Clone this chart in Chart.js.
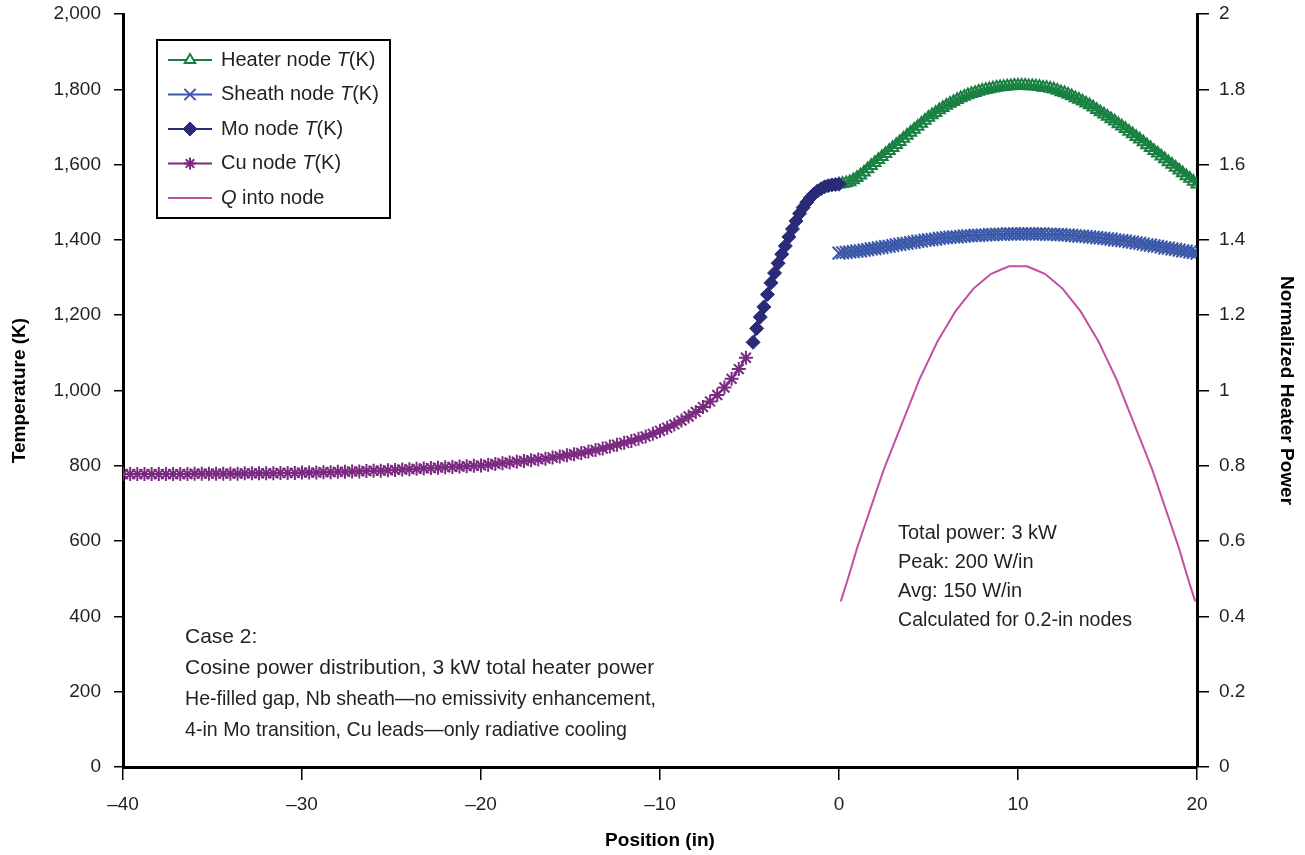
<!DOCTYPE html>
<html>
<head>
<meta charset="utf-8">
<title>Case 2 temperature profile</title>
<script src="https://cdn.jsdelivr.net/npm/chart.js@4.4.1/dist/chart.umd.min.js"></script>
<style>
  html, body { margin: 0; padding: 0; background: #fff; }
  #wrap { width: 1305px; height: 855px; }
</style>
</head>
<body>
<div id="wrap"><canvas id="profile" width="1305" height="855"></canvas></div>
<script>
(function() {
  'use strict';

  var FONT = "'Liberation Sans', Arial, sans-serif";
  var INK = '#231f20';

  var GREEN   = '#188040';
  var BLUE    = '#3b59a8';
  var NAVY    = '#2a2a78';
  var PURPLE  = '#7a2a80';
  var MAGENTA = '#c04fa6';

  /* Cu lead nodes, -40 in to -5.2 in */
  var cuPos = [-40, -39.6, -39.2, -38.8, -38.4, -38, -37.6, -37.2, -36.8, -36.4,
               -36, -35.6, -35.2, -34.8, -34.4, -34, -33.6, -33.2, -32.8, -32.4,
               -32, -31.6, -31.2, -30.8, -30.4, -30, -29.6, -29.2, -28.8, -28.4,
               -28, -27.6, -27.2, -26.8, -26.4, -26, -25.6, -25.2, -24.8, -24.4,
               -24, -23.6, -23.2, -22.8, -22.4, -22, -21.6, -21.2, -20.8, -20.4,
               -20, -19.6, -19.2, -18.8, -18.4, -18, -17.6, -17.2, -16.8, -16.4,
               -16, -15.6, -15.2, -14.8, -14.4, -14, -13.6, -13.2, -12.8, -12.4,
               -12, -11.6, -11.2, -10.8, -10.4, -10, -9.6, -9.2, -8.8, -8.4,
               -8, -7.6, -7.2, -6.8, -6.4, -6, -5.6, -5.2];
  var cuTemp = [778, 778, 778, 778, 778, 778, 778, 778, 778, 778,
                779, 779, 779, 779, 779, 779, 779, 780, 780, 780,
                780, 780, 781, 781, 781, 782, 782, 782, 783, 783,
                784, 784, 785, 785, 786, 787, 787, 788, 789, 790,
                791, 792, 793, 794, 795, 796, 797, 798, 799, 800,
                801, 803, 805, 807, 809, 811, 813, 815, 817, 819,
                822, 825, 828, 831, 834, 838, 842, 846, 851, 856,
                861, 866, 872, 878, 885, 893, 901, 910, 920, 931,
                943, 956, 971, 988, 1008, 1031, 1057, 1087];

  /* Mo transition nodes */
  var moPos = [-4.8, -4.6, -4.4, -4.2, -4, -3.8, -3.6, -3.4, -3.2, -3, -2.8, -2.6, -2.4,
               -2.2, -2, -1.8, -1.6, -1.4, -1.2, -1, -0.8, -0.6, -0.4, -0.2, 0];
  var moTemp = [1128, 1165, 1195, 1222, 1255, 1286, 1312, 1338, 1362, 1384, 1408, 1429, 1450,
                1470, 1486, 1500, 1512, 1522, 1530, 1536, 1541, 1544, 1546, 1547, 1548];

  /* heated zone nodes, 0 to 20 in (shared by heater and sheath) */
  var corePos = [0, 0.2, 0.4, 0.6, 0.8, 1, 1.2, 1.4, 1.6, 1.8,
                 2, 2.2, 2.4, 2.6, 2.8, 3, 3.2, 3.4, 3.6, 3.8,
                 4, 4.2, 4.4, 4.6, 4.8, 5, 5.2, 5.4, 5.6, 5.8,
                 6, 6.2, 6.4, 6.6, 6.8, 7, 7.2, 7.4, 7.6, 7.8,
                 8, 8.2, 8.4, 8.6, 8.8, 9, 9.2, 9.4, 9.6, 9.8,
                 10, 10.2, 10.4, 10.6, 10.8, 11, 11.2, 11.4, 11.6, 11.8,
                 12, 12.2, 12.4, 12.6, 12.8, 13, 13.2, 13.4, 13.6, 13.8,
                 14, 14.2, 14.4, 14.6, 14.8, 15, 15.2, 15.4, 15.6, 15.8,
                 16, 16.2, 16.4, 16.6, 16.8, 17, 17.2, 17.4, 17.6, 17.8,
                 18, 18.2, 18.4, 18.6, 18.8, 19, 19.2, 19.4, 19.6, 19.8, 20];
  var heaterTemp = [1548, 1549, 1551, 1554, 1559, 1565, 1572, 1580, 1588, 1597,
                    1605, 1613, 1621, 1629, 1637, 1645, 1653, 1661, 1669, 1677,
                    1685, 1693, 1701, 1709, 1717, 1725, 1732, 1738, 1745, 1751,
                    1757, 1762, 1767, 1772, 1777, 1781, 1785, 1788, 1791, 1794,
                    1797, 1799, 1801, 1803, 1805, 1806, 1807, 1808, 1809, 1810,
                    1810, 1810, 1810, 1809, 1809, 1808, 1807, 1805, 1804, 1802,
                    1800, 1797, 1793, 1790, 1786, 1782, 1777, 1773, 1768, 1763,
                    1758, 1752, 1746, 1740, 1734, 1728, 1721, 1715, 1708, 1702,
                    1695, 1688, 1681, 1674, 1667, 1660, 1652, 1645, 1637, 1630,
                    1622, 1615, 1607, 1600, 1592, 1585, 1578, 1570, 1563, 1555, 1548];
  var sheathTemp = [1365, 1366, 1367, 1368, 1369, 1370, 1371, 1373, 1374, 1376,
                    1377, 1379, 1380, 1382, 1383, 1385, 1387, 1388, 1390, 1391,
                    1393, 1394, 1396, 1397, 1399, 1400, 1401, 1402, 1404, 1405,
                    1406, 1407, 1408, 1408, 1409, 1410, 1411, 1411, 1412, 1412,
                    1413, 1413, 1414, 1414, 1415, 1415, 1415, 1416, 1416, 1416,
                    1416, 1416, 1416, 1416, 1416, 1416, 1416, 1416, 1415, 1415,
                    1415, 1414, 1414, 1413, 1413, 1412, 1411, 1410, 1410, 1409,
                    1408, 1407, 1406, 1405, 1404, 1403, 1402, 1400, 1399, 1398,
                    1397, 1395, 1394, 1392, 1391, 1389, 1387, 1386, 1384, 1383,
                    1381, 1379, 1378, 1376, 1375, 1373, 1371, 1370, 1368, 1367, 1365];

  /* normalized heater power (right axis) */
  var qPos = [0.1, 0.5, 1, 1.5, 2, 2.5, 3, 3.5, 4, 4.5, 5, 5.5, 6, 6.5, 7, 7.5, 8, 8.5, 9, 9.5,
              10, 10.5, 11, 11.5, 12, 12.5, 13, 13.5, 14, 14.5, 15, 15.5, 16, 16.5, 17, 17.5,
              18, 18.5, 19, 19.5, 19.9];
  var qPower = [0.44, 0.50, 0.58, 0.65, 0.72, 0.79, 0.85, 0.91, 0.97, 1.03, 1.08, 1.13, 1.17,
                1.21, 1.24, 1.27, 1.29, 1.31, 1.32, 1.33, 1.33, 1.33, 1.32, 1.31, 1.29, 1.27,
                1.24, 1.21, 1.17, 1.13, 1.08, 1.03, 0.97, 0.91, 0.85, 0.79, 0.72, 0.65, 0.58,
                0.50, 0.44];

  /* text blocks: [line, max width in px] */
  var caseNotes = [
    ['Case 2:', 0],
    ['Cosine power distribution, 3 kW total heater power', 470],
    ['He-filled gap, Nb sheath\u2014no emissivity enhancement,', 471],
    ['4-in Mo transition, Cu leads\u2014only radiative cooling', 442]
  ];
  var powerNotes = [
    ['Total power: 3 kW', 0],
    ['Peak: 200 W/in', 0],
    ['Avg: 150 W/in', 0],
    ['Calculated for 0.2-in nodes', 234]
  ];

  function pairs(xs, ys) {
    return xs.map(function(x, i) { return { x: x, y: ys[i] }; });
  }

  var datasets = [
    {
      label: 'Heater node',
      legendParts: [['Heater node ', false], ['T', true], ['(K)', false]],
      legendRadius: 6,
      data: pairs(corePos, heaterTemp),
      yAxisID: 'y',
      borderColor: GREEN,
      borderWidth: 2,
      pointStyle: 'triangle',
      pointRadius: 6.5,
      pointBorderWidth: 2,
      pointBackgroundColor: 'rgba(255,255,255,0)',
      pointBorderColor: GREEN,
      order: 2
    },
    {
      label: 'Sheath node',
      legendParts: [['Sheath node ', false], ['T', true], ['(K)', false]],
      legendRadius: 8,
      data: pairs(corePos, sheathTemp),
      yAxisID: 'y',
      borderColor: BLUE,
      borderWidth: 2,
      pointStyle: 'crossRot',
      pointRadius: 9,
      pointBorderWidth: 2,
      pointBorderColor: BLUE,
      order: 3
    },
    {
      label: 'Mo node',
      legendParts: [['Mo node ', false], ['T', true], ['(K)', false]],
      legendRadius: 7,
      data: pairs(moPos, moTemp),
      yAxisID: 'y',
      borderColor: NAVY,
      borderWidth: 2,
      pointStyle: 'rectRot',
      pointRadius: 7,
      pointBorderWidth: 1,
      pointBackgroundColor: NAVY,
      pointBorderColor: NAVY,
      order: 1
    },
    {
      label: 'Cu node',
      legendParts: [['Cu node ', false], ['T', true], ['(K)', false]],
      legendRadius: 6,
      data: pairs(cuPos, cuTemp),
      yAxisID: 'y',
      borderColor: PURPLE,
      borderWidth: 2,
      pointStyle: 'star',
      pointRadius: 7,
      pointBorderWidth: 2,
      pointBorderColor: PURPLE,
      order: 4
    },
    {
      label: 'Q into node',
      legendParts: [['Q', true], [' into node', false]],
      data: pairs(qPos, qPower),
      yAxisID: 'y2',
      borderColor: MAGENTA,
      borderWidth: 2,
      pointRadius: 0,
      order: 5
    }
  ];

  /* boxed legend, drawn by hand so the T and Q can be set in italics */
  var boxLegend = {
    id: 'boxLegend',
    afterDraw: function(chart) {
      var ctx = chart.ctx;
      ctx.save();
      ctx.strokeStyle = '#000';
      ctx.lineWidth = 2;
      ctx.strokeRect(157, 40, 233, 178);
      ctx.textBaseline = 'middle';
      chart.data.datasets.forEach(function(ds, i) {
        var y = 60 + i * 34.5;
        ctx.strokeStyle = ds.borderColor;
        ctx.lineWidth = 2;
        ctx.beginPath();
        ctx.moveTo(168, y);
        ctx.lineTo(212, y);
        ctx.stroke();
        if (ds.pointRadius) {
          ctx.fillStyle = '#fff';
          if (ds.pointStyle === 'rectRot') ctx.fillStyle = ds.pointBackgroundColor;
          ctx.strokeStyle = ds.pointBorderColor;
          ctx.lineWidth = ds.pointBorderWidth;
          Chart.helpers.drawPoint(ctx, {
            pointStyle: ds.pointStyle, radius: ds.legendRadius, rotation: 0,
            borderWidth: ds.pointBorderWidth
          }, 190, y);
        }
        var x = 221;
        ctx.fillStyle = INK;
        ds.legendParts.forEach(function(p) {
          ctx.font = (p[1] ? 'italic ' : '') + '20px ' + FONT;
          ctx.fillText(p[0], x, y);
          x += ctx.measureText(p[0]).width;
        });
      });
      ctx.restore();
    }
  };

  function writeLines(ctx, lines, x, y0, step) {
    lines.forEach(function(l, i) {
      if (l[1]) ctx.fillText(l[0], x, y0 + i * step, l[1]);
      else ctx.fillText(l[0], x, y0 + i * step);
    });
  }

  var notes = {
    id: 'notes',
    afterDraw: function(chart) {
      var ctx = chart.ctx;
      ctx.save();
      ctx.fillStyle = INK;
      ctx.textBaseline = 'middle';
      ctx.font = '21px ' + FONT;
      writeLines(ctx, caseNotes, 185, 637, 31);
      ctx.font = '20px ' + FONT;
      writeLines(ctx, powerNotes, 898, 533, 29);
      ctx.restore();
    }
  };

  /* fixed axis boxes; drop the half-label overhang so the plot starts at y=14 */
  function fixWidth(w) {
    return function(scale) {
      scale.width = w;
      scale.paddingTop = 0;
      scale.paddingBottom = 0;
    };
  }

  new Chart(document.getElementById('profile'), {
    type: 'line',
    data: { datasets: datasets },
    plugins: [boxLegend, notes],
    options: {
      responsive: false,
      animation: false,
      layout: { padding: { top: 14, left: 0, right: 0, bottom: 0 } },
      plugins: { legend: { display: false }, tooltip: { enabled: false } },
      elements: { line: { tension: 0 } },
      scales: {
        x: {
          type: 'linear',
          min: -40,
          max: 20,
          afterFit: function(scale) { scale.height = 88; },
          border: { color: '#000', width: 3 },
          grid: { drawOnChartArea: false, drawTicks: true, tickLength: 13, color: '#000', lineWidth: 1.5 },
          ticks: {
            stepSize: 10,
            padding: 13,
            color: INK,
            font: { family: FONT, size: 19 },
            callback: function(v) { return String(v).replace('-', '\u2013'); }
          },
          title: { display: true, text: 'Position (in)', color: '#000', padding: { top: 0, bottom: 3 },
                   font: { family: FONT, size: 19, weight: 'bold' } }
        },
        y: {
          position: 'left',
          min: 0,
          max: 2000,
          afterFit: fixWidth(123),
          border: { color: '#000', width: 3 },
          grid: { drawOnChartArea: false, drawTicks: true, tickLength: 9, color: '#000', lineWidth: 1.5 },
          ticks: {
            stepSize: 200,
            padding: 13,
            color: INK,
            font: { family: FONT, size: 19 },
            callback: function(v) { return v.toLocaleString('en-US'); }
          },
          title: { display: true, text: 'Temperature (K)', color: '#000', padding: { top: 8, bottom: 0 },
                   font: { family: FONT, size: 19, weight: 'bold' } }
        },
        y2: {
          position: 'right',
          min: 0,
          max: 2,
          afterFit: fixWidth(108),
          border: { color: '#000', width: 3 },
          grid: { drawOnChartArea: false, drawTicks: true, tickLength: 12, color: '#000', lineWidth: 1.5 },
          ticks: {
            stepSize: 0.2,
            padding: 10,
            color: INK,
            font: { family: FONT, size: 19 },
            callback: function(v) { return String(+v.toFixed(1)); }
          },
          title: { display: true, text: 'Normalized Heater Power', color: '#000', padding: { top: 7, bottom: 0 },
                   font: { family: FONT, size: 19, weight: 'bold' } }
        }
      }
    }
  });
})();
</script>
</body>
</html>
